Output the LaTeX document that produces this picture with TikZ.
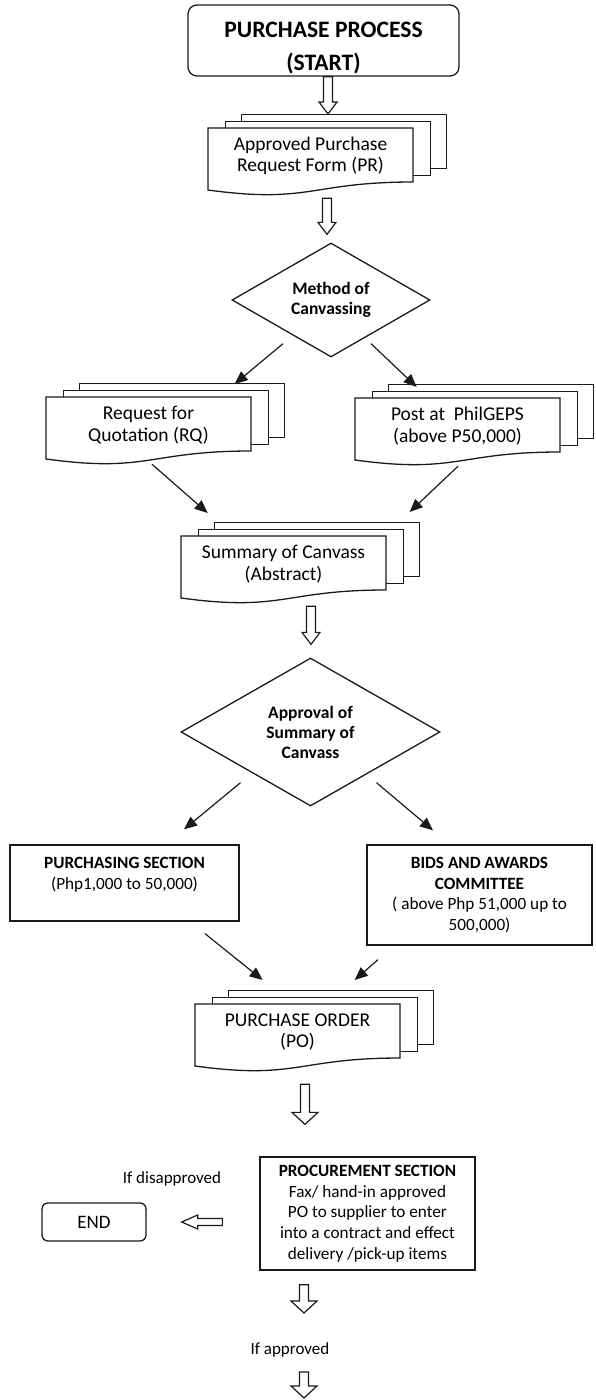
\documentclass[tikz,border=0pt]{standalone}
\usepackage{fontspec}
\setmainfont{Carlito}
\usetikzlibrary{calc,shapes.geometric,arrows.meta}
\definecolor{ink}{HTML}{1A1A1A}

% outlined block arrow pointing down: [head half width]{tail}{tip}
\newcommand\blockdown[3][9]{%
  \draw[hollow] let \p1=#2, \p2=#3 in
    ({\x1-4.5pt},\y1) -- ({\x1-4.5pt},{\y2+12pt}) -- ({\x1-#1pt},{\y2+12pt}) -- (\x1,\y2)
    -- ({\x1+#1pt},{\y2+12pt}) -- ({\x1+4.5pt},{\y2+12pt}) -- ({\x1+4.5pt},\y1) -- cycle;}
% outlined block arrow pointing left: {tail}{tip}
\newcommand\blockleft[2]{%
  \draw[hollow] let \p1=#1, \p2=#2 in
    (\x1,{\y1+3.5pt}) -- ({\x2+16pt},{\y1+3.5pt}) -- ({\x2+16pt},{\y1+7pt}) -- (\x2,\y1)
    -- ({\x2+16pt},{\y1-7pt}) -- ({\x2+16pt},{\y1-3.5pt}) -- (\x1,{\y1-3.5pt}) -- cycle;}
% stack of three documents: {name}{left}{top}{text}
\newcommand\docstack[4]{%
  \node[page] (#1-3) at ({#2+33},{#3-14}) {};
  \node[page] (#1-2) at ({#2+16.5},{#3-7}) {};
  \filldraw[ln, fill=white] (#2,#3) -- ({#2+205},#3) -- ({#2+205},{#3+54})
    .. controls ({#2+102.5},{#3+54}) and ({#2+102.5},{#3+76}) .. (#2,{#3+62}) -- cycle;
  \node[doctext] (#1) at ({#2+102.5},{#3+28}) {#4};
}

\tikzset{
  ln/.style={draw=ink, line width=1.3pt},
  startbox/.style={ln, rounded corners=9pt, inner sep=0, align=center,
    font=\fontsize{23.6}{33}\selectfont\bfseries},
  page/.style={ln, fill=white, minimum width=205pt, minimum height=54pt,
    inner sep=0, anchor=north west},
  doctext/.style={minimum width=205pt, minimum height=54pt, inner sep=0,
    align=center, font=\fontsize{19.5}{21.5}\selectfont},
  decision/.style={diamond, ln, inner sep=0, shape aspect=1.75, align=center,
    font=\fontsize{17.5}{20}\selectfont\bfseries},
  procbox/.style={ln, inner sep=0, align=center, font=\fontsize{17.2}{20.7}\selectfont},
  arr/.style={draw=ink, line width=1.2pt, -{Triangle[length=13pt,width=11pt]}},
  hollow/.style={draw=ink, line width=1.2pt, fill=white, line join=miter},
  note/.style={inner sep=0, font=\fontsize{17}{20}\selectfont},
}

\begin{document}
\begin{tikzpicture}[x=1pt,y=-1pt]
\fill[white] (0,0) rectangle (596,1400);
\useasboundingbox (0,0) rectangle (596,1400);

% start
\node[startbox, minimum width=271pt, minimum height=71pt] (start) at (323.5,40.5)
  {\rule{0pt}{31pt}PURCHASE PROCESS\\(START)};

% documents
\docstack{pr}{208}{128}{Approved Purchase\\Request Form (PR)}
\docstack{rq}{46}{397}{Request for\\Quotation (RQ)}
\docstack{pg}{355}{398}{Post at~ PhilGEPS\\(above P50,000)}
\docstack{sum}{181}{536}{Summary of Canvass\\(Abstract)}
\docstack{po}{195}{1004}{PURCHASE ORDER\\(PO)}

% decisions
\node[decision, minimum width=198pt, minimum height=114pt] (m1) at (331,300)
  {Method of\\Canvassing};
\node[decision, minimum width=259pt, minimum height=148pt] (m2) at (310.5,732)
  {Approval of\\Summary of\\Canvass};

% approving offices
\node[procbox, minimum width=229pt, minimum height=76pt] (ps) at (124.5,883) {};
\node[inner sep=0, align=center, anchor=north, font=\fontsize{17.2}{20.7}\selectfont]
  (pstext) at (124.5,857) {\textbf{PURCHASING SECTION}\\(Php1,000 to 50,000)};
\node[procbox, minimum width=225pt, minimum height=100pt] (bac) at (479.5,895)
  {\textbf{BIDS AND AWARDS}\\\textbf{COMMITTEE}\\( above Php 51,000 up to\\500,000)};

% procurement
\node[procbox, minimum width=215pt, minimum height=113pt] (proc) at (367.5,1213.5)
  {\textbf{PROCUREMENT SECTION}\\Fax/ hand-in approved\\PO to supplier to enter\\into a contract and effect\\delivery /pick-up items};
\node[note] (ifd) at (172,1179) {If disapproved};
\node[startbox, rounded corners=6pt, minimum width=104pt, minimum height=38pt,
  font=\fontsize{19}{22}\selectfont] (end) at (94,1222) {END};
\node[note] (ifa) at (290,1350) {If approved};
\coordinate (fin) at (304,1398);

% block arrows
\blockdown{([shift={(4.5,0)}]start.south)}{(pr-3.north)}
\blockdown{([shift={(16.5,15)}]pr.south)}{([shift={(0,-8)}]m1.north)}
\blockdown{([shift={(27.5,15)}]sum.south)}{([shift={(0,-13)}]m2.north)}
\blockdown[13]{([shift={(7.5,25)}]po.south)}{([shift={(0,-32)}]proc.north)}
\blockdown[13]{([shift={(-63.5,14)}]proc.south)}{([shift={(0,-37)}]ifa.center)}
\blockdown[13]{([shift={(14,22)}]ifa.center)}{(fin)}
\blockleft{([shift={(-37,8.5)}]proc.west)}{([shift={(35,0)}]end.east)}

% line arrows
\draw[arr] ($(m1.south)+(-48,-14)$) -- ($(rq-3.north)+(52.5,1)$);
\draw[arr] ($(m1.south)+(40,-14)$) -- ($(pg-3.north)+(-74.5,3)$);
\draw[arr] ($(rq.south)+(3.5,12)$) -- ($(sum-3.north)+(-109.5,-9)$);
\draw[arr] ($(pg.south)+(0.5,13)$) -- ($(sum-3.north)+(92.5,-10)$);
\draw[arr] ($(m2.south)+(-70,-24)$) -- ($(ps.north)+(59.5,-15)$);
\draw[arr] ($(m2.south)+(66,-24)$) -- ($(bac.north)+(-46.5,-14)$);
\draw[arr] ($(ps.south)+(80.5,12)$) -- ($(po-3.north)+(-68.5,-10)$);
\draw[arr] ($(bac.south)+(-101.5,14)$) -- ($(po-3.north)+(23.5,-10)$);
\end{tikzpicture}
\end{document}
